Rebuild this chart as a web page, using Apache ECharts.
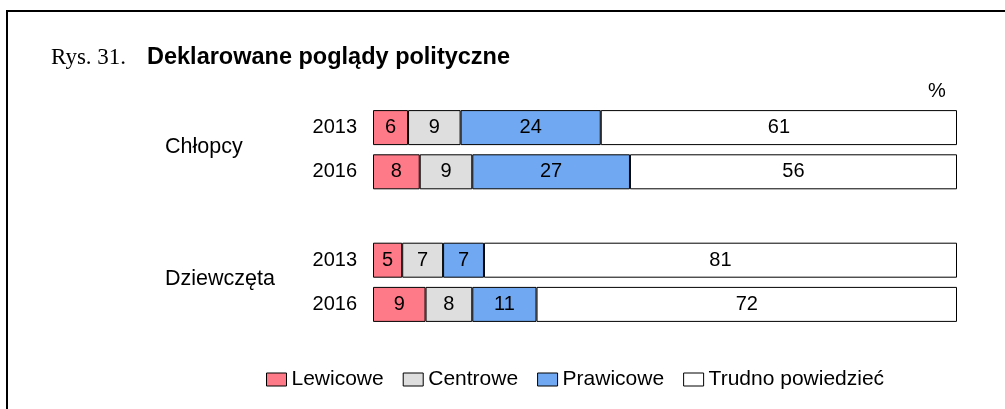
<!DOCTYPE html>
<html><head><meta charset="utf-8">
<script src="https://cdn.jsdelivr.net/npm/echarts@6/dist/echarts.min.js"></script>
<style>html,body{margin:0;padding:0;background:#fff}#c{width:1005px;height:409px}</style>
</head><body><div id="c"></div>
<script>
const rowLabels = ['2013', '2016', '', '2013', '2016'];
const groupLabels = ['', 'Chłopcy', '', '', 'Dziewczęta', ''];
const seriesNames = ['Lewicowe', 'Centrowe', 'Prawicowe', 'Trudno powiedzieć'];
const lewicowe = [6, 8, null, 5, 9];
const centrowe = [9, 9, null, 7, 8];
const prawicowe = [24, 27, null, 7, 11];
const trudno = [61, 56, null, 81, 72];
const colors = ['#FF7A88', '#DEDEDE', '#70A9F2', '#FFFFFF'];
const titlePrefix = 'Rys. 31.';
const titleMain = 'Deklarowane poglądy polityczne';
const unitLabel = '%';

const F = 'Liberation Sans, Arial, sans-serif';
const values = [lewicowe, centrowe, prawicowe, trudno];
const chart = echarts.init(document.getElementById('c'), null, {renderer: 'canvas'});
chart.setOption({
  animation: false,
  backgroundColor: '#fff',
  title: {
    left: 51, top: 46, padding: 0,
    text: '{a|' + titlePrefix + '}{b|' + titleMain + '}',
    textStyle: {
      rich: {
        a: {fontFamily: 'Liberation Serif, Times New Roman, serif', fontSize: 23, fontWeight: 'normal', color: '#000', width: 96},
        b: {fontFamily: F, fontSize: 23.5, fontWeight: 'bold', color: '#000'}
      }
    }
  },
  graphic: [
    {type: 'rect', shape: {x: 7, y: 11, width: 1100, height: 500}, style: {fill: 'none', stroke: '#000', lineWidth: 2}, silent: true},
    {type: 'text', left: 928, top: 81, style: {text: unitLabel, font: '20px ' + F, fill: '#000'}}
  ],
  legend: {
    left: 266, top: 369, padding: 0,
    itemWidth: 20, itemHeight: 13, itemGap: 19,
    icon: 'rect',
    textStyle: {fontFamily: F, fontSize: 21, color: '#000'},
    data: seriesNames.map((n, i) => ({name: n, itemStyle: {color: colors[i], borderColor: '#000', borderWidth: 1}}))
  },
  grid: {left: 373, right: 48, top: 105.5, height: 221},
  xAxis: {type: 'value', min: 0, max: 100, show: false},
  yAxis: [
    {
      type: 'category', inverse: true, data: rowLabels,
      axisLine: {show: false}, axisTick: {show: false},
      axisLabel: {fontFamily: F, fontSize: 20, color: '#000', margin: 16}
    },
    {
      type: 'category', inverse: true, boundaryGap: false, data: groupLabels, position: 'left',
      axisLine: {show: false}, axisTick: {show: false},
      axisLabel: {fontFamily: F, fontSize: 21.5, color: '#000', margin: 208, align: 'left', interval: 0, verticalAlign: 'bottom', lineHeight: 6}
    }
  ],
  series: seriesNames.map((n, i) => ({
    name: n, type: 'bar', stack: 'all', barWidth: 35,
    data: values[i],
    itemStyle: {color: colors[i], borderColor: '#000', borderWidth: 1},
    label: {show: true, position: 'inside', fontFamily: F, fontSize: 20, color: '#000'}
  }))
});
</script></body></html>
